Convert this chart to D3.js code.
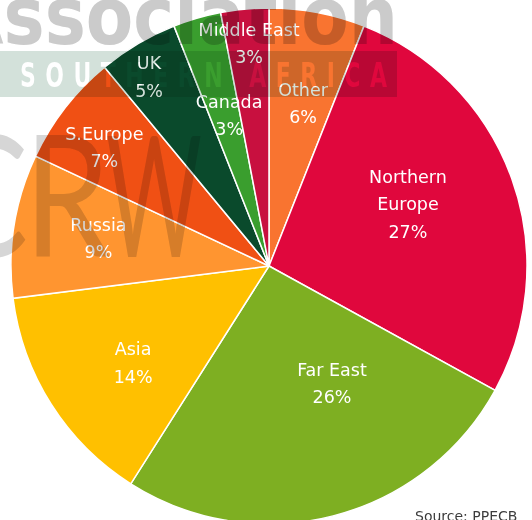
<!DOCTYPE html>
<html>
<head>
<meta charset="utf-8">
<script src="https://cdn.jsdelivr.net/npm/d3@7"></script>
<style>
  html, body { margin: 0; padding: 0; background: #ffffff; }
  svg { display: block; }
</style>
</head>
<body>
<svg id="chart" width="532" height="520"></svg>
<script>
// Export destinations, share of volume (%)
const categories = ["Other", "Northern Europe", "Far East", "Asia", "Russia",
                    "S.Europe", "UK", "Canada", "Middle East"];
const shares = [6, 27, 26, 14, 9, 7, 5, 3, 3];
const sourceNote = "Source: PPECB";

// Slice colours, in category order
const sliceColors = ["#F97430", "#E0073D", "#7EAF22", "#FFC000", "#FF9530",
                     "#F05014", "#0A4A2C", "#3A9E2E", "#C8103F"];

// Label placement: angle offset from the slice middle (degrees) and radius fraction
const labelPlacement = [
  [1, 0.645], [-4.3, 0.59], [-13.9, 0.515], [-3.1, 0.647], [0.3, 0.67],
  [-2, 0.787], [-1.8, 0.868], [1.4, 0.605], [0.3, 0.868]
];

const svg = d3.select("#chart");
const cx = 269, cy = 266, R = 258;

const pie = d3.pie().sort(null).value(d => d.value);
const arc = d3.arc().innerRadius(0).outerRadius(R);
const data = categories.map((c, i) => ({ name: c, value: shares[i], color: sliceColors[i], place: labelPlacement[i] }));
const arcs = pie(data);

const g = svg.append("g").attr("transform", `translate(${cx},${cy})`);

g.selectAll("path.slice")
  .data(arcs)
  .join("path")
  .attr("class", "slice")
  .attr("d", arc)
  .attr("fill", d => d.data.color)
  .attr("stroke", "#ffffff")
  .attr("stroke-width", 1.5);

// Labels: name (wrapped where needed) plus percentage
const lineH = 27.5;
g.selectAll("text.lbl")
  .data(arcs)
  .join("text")
  .attr("class", "lbl")
  .attr("font-family", "'DejaVu Sans', sans-serif")
  .attr("font-size", 17.5)
  .attr("fill", "#ffffff")
  .attr("text-anchor", "middle")
  .each(function(d) {
    const mid = (d.startAngle + d.endAngle) / 2 + d.data.place[0] * Math.PI / 180;
    const r = d.data.place[1] * R;
    const x = r * Math.sin(mid), y = -r * Math.cos(mid);
    const lines = (d.data.name === "Northern Europe" ? d.data.name.split(" ") : [d.data.name])
      .concat([d3.format(".0f")(d.data.value) + "%"]);
    const top = y - (lines.length - 1) * lineH / 2;
    const t = d3.select(this);
    lines.forEach((ln, k) => {
      t.append("tspan")
        .attr("x", x)
        .attr("y", top + k * lineH)
        .attr("dy", "0.36em")
        .text(ln);
    });
  });

// Source note
svg.append("text")
  .attr("x", 415)
  .attr("y", 521)
  .attr("font-family", "'DejaVu Sans', sans-serif")
  .attr("font-size", 14)
  .attr("fill", "#3c3c3c")
  .text(sourceNote);

// Background logo, blended over the chart
const logo = svg.append("g").attr("class", "logo");

logo.append("text")
  .attr("x", 398)
  .attr("y", 44)
  .attr("text-anchor", "end")
  .attr("textLength", 448)
  .attr("lengthAdjust", "spacingAndGlyphs")
  .attr("font-family", "'DejaVu Sans Condensed', 'DejaVu Sans', sans-serif")
  .attr("font-weight", "bold")
  .attr("font-size", 80)
  .attr("fill", "#CBCBCB")
  .style("mix-blend-mode", "multiply")
  .text("Association");

const defs = svg.append("defs");
const mask = defs.append("mask").attr("id", "bandMask")
  .attr("maskUnits", "userSpaceOnUse")
  .attr("x", 0).attr("y", 0).attr("width", 532).attr("height", 520);
mask.append("rect").attr("x", 0).attr("y", 0).attr("width", 532).attr("height", 520).attr("fill", "#ffffff");
const sx = 0.72;
mask.append("text")
  .attr("transform", `scale(${sx},1)`)
  .attr("x", 20 / sx)
  .attr("y", 87)
  .attr("textLength", 367 / sx)
  .attr("lengthAdjust", "spacing")
  .attr("font-family", "'DejaVu Sans Condensed', sans-serif")
  .attr("font-weight", "bold")
  .attr("font-size", 34)
  .attr("fill", "#000000")
  .text("SOUTHERN AFRICA");

logo.append("rect")
  .attr("x", 0).attr("y", 51).attr("width", 397).attr("height", 46)
  .attr("fill", "#D3E1DA")
  .attr("mask", "url(#bandMask)")
  .style("mix-blend-mode", "multiply");

// "CRW" monogram, each letter fitted to its own width
const mono = [["C", -58, 86], ["R", 24, 86], ["W", 106, 96]];
logo.selectAll("text.mono")
  .data(mono)
  .join("text")
  .attr("class", "mono")
  .attr("x", d => d[1])
  .attr("y", 257)
  .attr("textLength", d => d[2])
  .attr("lengthAdjust", "spacingAndGlyphs")
  .attr("font-family", "Lato, sans-serif")
  .attr("font-size", 168)
  .attr("fill", "#D6D6D6")
  .style("mix-blend-mode", "multiply")
  .text(d => d[0]);
</script>
</body>
</html>
